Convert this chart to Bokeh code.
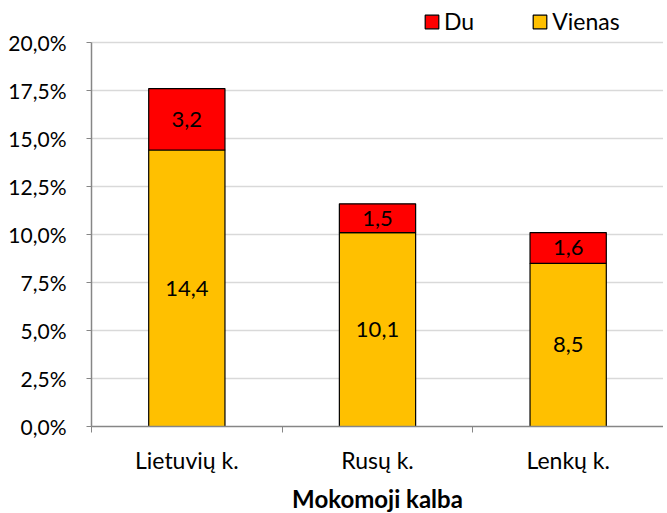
from bokeh.plotting import figure
from bokeh.models import FixedTicker, ColumnDataSource, Legend, LegendItem
from bokeh.core.properties import value
from bokeh.embed import file_html
from bokeh.resources import INLINE

categories = ["Lietuvių k.", "Rusų k.", "Lenkų k."]
vienas = [14.4, 10.1, 8.5]
du = [3.2, 1.5, 1.6]
y_ticks = [0, 2.5, 5, 7.5, 10, 12.5, 15, 17.5, 20]
y_tick_labels = ["0,0%", "2,5%", "5,0%", "7,5%", "10,0%", "12,5%", "15,0%", "17,5%", "20,0%"]

FONT = "Lato"
AX = "#868686"

xs = [i + 0.5 for i in range(len(categories))]
tops = [v + d for v, d in zip(vienas, du)]
fmt = lambda v: f"{v:.1f}".replace(".", ",")

src = ColumnDataSource(dict(
    x=xs, vienas=vienas, du=du, top=tops, zero=[0] * len(xs),
    vlab=[fmt(v) for v in vienas], dlab=[fmt(d) for d in du],
    vmid=[v / 2 for v in vienas], dmid=[v + d / 2 for v, d in zip(vienas, du)],
))

# frame extends above the 20% line to leave room for the legend
p = figure(frame_width=572, frame_height=426, output_backend="svg", toolbar_location=None,
           x_range=(0, 3), y_range=(0, 22.1875),
           min_border_left=91, min_border_right=0, min_border_top=0, min_border_bottom=0)
p.outline_line_color = None
p.background_fill_color = "white"

rv = p.vbar(x="x", bottom="zero", top="vienas", width=0.4, source=src,
            fill_color="#FFC000", line_color="black", line_width=1.2)
rd = p.vbar(x="x", bottom="vienas", top="top", width=0.4, source=src,
            fill_color="#FF0000", line_color="black", line_width=1.2)

for col, mid in (("vlab", "vmid"), ("dlab", "dmid")):
    p.text(x="x", y=mid, text=col, source=src, text_align="center", text_baseline="middle",
           text_font=value(FONT), text_font_size="22px", text_color="black")

# x axis
p.xaxis.ticker = FixedTicker(ticks=xs, minor_ticks=[0, 1, 2, 3])
p.xaxis.major_label_overrides = {x: c for x, c in zip(xs, categories)}
p.xaxis.major_tick_line_color = None
p.xaxis.minor_tick_line_color = AX
p.xaxis.minor_tick_in = 0
p.xaxis.minor_tick_out = 6
p.xaxis.axis_line_color = AX
p.xaxis.axis_line_width = 1.5
p.xaxis.major_label_text_font = FONT
p.xaxis.major_label_text_font_size = "23px"
p.xaxis.major_label_text_color = "black"
p.xaxis.major_label_standoff = 13
p.xaxis.axis_label = "Mokomoji kalba"
p.xaxis.axis_label_text_font = FONT
p.xaxis.axis_label_text_font_size = "24px"
p.xaxis.axis_label_text_font_style = "bold"
p.xaxis.axis_label_text_color = "black"
p.xaxis.axis_label_standoff = 7
p.xgrid.visible = False

# y axis
p.yaxis.ticker = FixedTicker(ticks=y_ticks, minor_ticks=[])
p.yaxis.bounds = (0, 20)
p.yaxis.major_label_overrides = {t: l for t, l in zip(y_ticks, y_tick_labels)}
p.yaxis.major_tick_line_color = AX
p.yaxis.major_tick_in = 0
p.yaxis.major_tick_out = 5
p.yaxis.minor_tick_line_color = None
p.yaxis.axis_line_color = AX
p.yaxis.axis_line_width = 1.5
p.yaxis.major_label_text_font = FONT
p.yaxis.major_label_text_font_size = "21px"
p.yaxis.major_label_text_color = "black"
p.yaxis.major_label_standoff = 20
p.ygrid.grid_line_color = "#D9D9D9"
p.ygrid.grid_line_width = 1.5

legend = Legend(items=[LegendItem(label="Du", renderers=[rd]),
                       LegendItem(label="Vienas", renderers=[rv])],
                location=(332, 391), orientation="horizontal",
                glyph_width=17, glyph_height=17, label_standoff=4, spacing=57,
                padding=4, margin=0, border_line_color=None, background_fill_alpha=0,
                label_text_font=FONT, label_text_font_size="23px", label_text_color="black")
p.add_layout(legend, "center")

open("out.html", "w").write(file_html(p, INLINE))
